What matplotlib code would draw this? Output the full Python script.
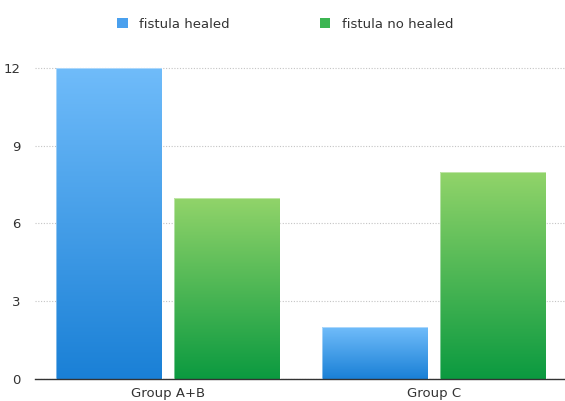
import numpy as np
import matplotlib.pyplot as plt
from matplotlib.colors import LinearSegmentedColormap
from matplotlib.patches import Rectangle

groups = ["Group A+B", "Group C"]
healed = [12, 2]
no_healed = [7, 8]
series_names = ["fistula healed", "fistula no healed"]
yticks = [0, 3, 6, 9, 12]

blue = LinearSegmentedColormap.from_list("blue", ["#1a80d6", "#70bcfa"])
green = LinearSegmentedColormap.from_list("green", ["#0b9a40", "#92d46a"])

fig = plt.figure(figsize=(5.65, 4.01), dpi=100)
ax = fig.add_axes([0.0615, 0.055, 0.942, 0.808])

grad = np.linspace(0, 1, 256).reshape(-1, 1)
x = np.arange(len(groups))
w = 0.398
off = 0.221


def grad_bars(xs, vals, cmap):
    for xi, v in zip(xs, vals):
        im = ax.imshow(grad, cmap=cmap, aspect="auto", origin="lower",
                       extent=[xi - w / 2, xi + w / 2, 0, v], zorder=2)
        r = Rectangle((xi - w / 2, 0), w, v, facecolor="none",
                      edgecolor="#ffffff", linewidth=0.6, alpha=0.5, zorder=3)
        ax.add_patch(r)
        im.set_clip_path(r)


grad_bars(x - off, healed, blue)
grad_bars(x + off, no_healed, green)

ax.set_xlim(-0.5, 1.5)
ax.set_ylim(0, 12.5)
ax.set_yticks(yticks)
ax.set_xticks(x)
ax.set_xticklabels(groups)
ax.tick_params(length=0, labelsize=9.5, colors="#333333")
ax.tick_params(axis="x", pad=6)
ax.tick_params(axis="y", pad=10)
ax.yaxis.grid(True, linestyle=(0, (1, 1.5)), color="#c4c4c4", linewidth=0.8, zorder=0)
ax.set_axisbelow(True)
for s in ["top", "right", "left"]:
    ax.spines[s].set_visible(False)
ax.spines["bottom"].set_color("#333333")
ax.spines["bottom"].set_linewidth(1.0)

# legend
handles = [Rectangle((0, 0), 1, 1, facecolor="#4aa0ee"),
           Rectangle((0, 0), 1, 1, facecolor="#3cb552")]
fig.legend(handles, series_names, loc="upper center", bbox_to_anchor=(0.505, 0.985),
           ncol=2, frameon=False, fontsize=9.5, handlelength=0.8, handleheight=0.8,
           columnspacing=6.8, handletextpad=0.9, labelcolor="#333333")

fig.savefig("out.png", dpi=100)
